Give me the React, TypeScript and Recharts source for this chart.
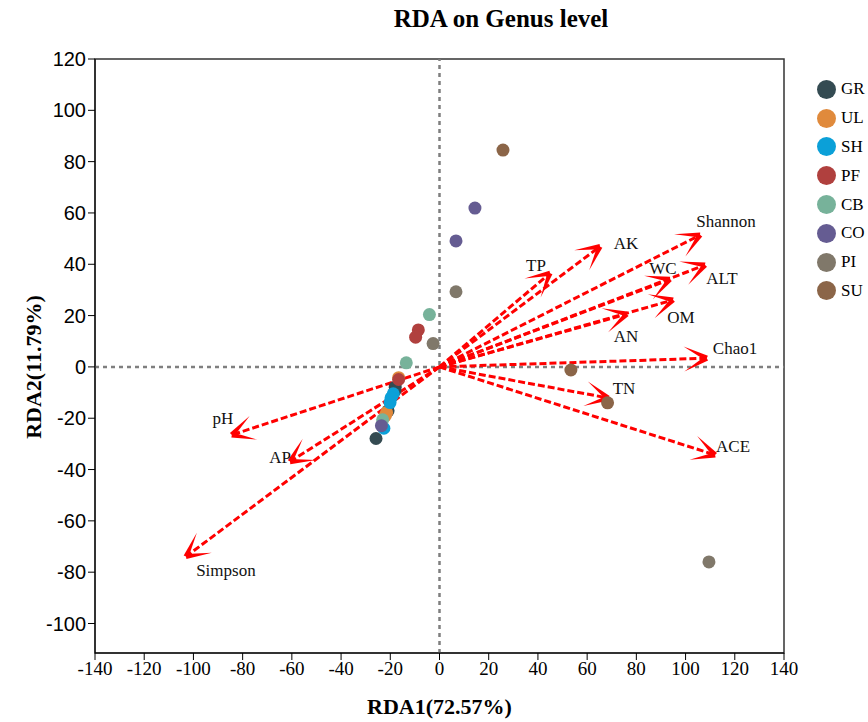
import React from 'react';
import {
  ScatterChart,
  Scatter,
  XAxis,
  YAxis,
  ReferenceLine,
  ReferenceDot,
  ReferenceArea,
} from 'recharts';

// sample groups and their site scores (RDA1, RDA2)
const groups = ['GR', 'UL', 'SH', 'PF', 'CB', 'CO', 'PI', 'SU'];
const groupColors = ['#344b52', '#e08a3c', '#0ba0d8', '#b0403e', '#77b29a', '#655c92', '#80786a', '#8b6548'];

const grPoints = [
  { x: -18.0, y: -7.9 },
  { x: -18.1, y: -9.3 },
  { x: -20.9, y: -17.1 },
  { x: -25.8, y: -27.9 },
];
const ulPoints = [
  { x: -16.6, y: -4.2 },
  { x: -21.5, y: -17.8 },
  { x: -22.0, y: -19.0 },
];
const shPoints = [
  { x: -18.8, y: -10.5 },
  { x: -19.7, y: -12.1 },
  { x: -20.1, y: -13.9 },
  { x: -22.6, y: -23.9 },
];
const pfPoints = [
  { x: -8.6, y: 14.4 },
  { x: -9.7, y: 11.6 },
  { x: -16.6, y: -4.9 },
];
const cbPoints = [
  { x: -4.1, y: 20.4 },
  { x: -13.5, y: 1.6 },
  { x: -23.1, y: -20.6 },
];
const coPoints = [
  { x: 14.4, y: 61.9 },
  { x: 6.7, y: 49.1 },
  { x: -23.6, y: -22.9 },
];
const piPoints = [
  { x: 6.7, y: 29.3 },
  { x: -2.6, y: 9.1 },
  { x: 109.5, y: -76.0 },
];
const suPoints = [
  { x: 25.8, y: 84.5 },
  { x: 53.4, y: -1.2 },
  { x: 68.3, y: -14.0 },
];
const groupPoints = [grPoints, ulPoints, shPoints, pfPoints, cbPoints, coPoints, piPoints, suPoints];

// environmental factor arrows (tip coordinates)
const envNames = ['pH', 'AP', 'Simpson', 'TP', 'AK', 'Shannon', 'WC', 'ALT', 'OM', 'AN', 'Chao1', 'TN', 'ACE'];
const envX = [-84.4, -60.7, -103.0, 44.9, 65.2, 105.9, 93.6, 107.9, 94.9, 76.1, 108.6, 68.5, 112.0];
const envY = [-26.5, -36.9, -73.9, 36.5, 46.9, 51.4, 34.1, 39.7, 26.1, 20.6, 3.4, -12.1, -34.3];
// where each factor name sits (data units)
const labelX = [-88.0, -64.8, -86.8, 39.2, 75.8, 116.4, 90.8, 114.8, 98.1, 75.8, 120.1, 75.0, 119.3];
const labelY = [-20.3, -35.5, -79.5, 39.7, 47.9, 56.5, 38.2, 34.3, 19.1, 11.7, 7.0, -8.6, -31.2];

const xTicks = [-140, -120, -100, -80, -60, -40, -20, 0, 20, 40, 60, 80, 100, 120, 140];
const yTicks = [-100, -80, -60, -40, -20, 0, 20, 40, 60, 80, 100, 120];

const RED = '#ff0000';

const Arrow = (props: any) => {
  const { x1, y1, x2, y2 } = props;
  const ang = Math.atan2(y2 - y1, x2 - x1);
  const len = 26;
  const spread = 0.5;
  const barb = (s: number) => {
    const a = ang + s * spread;
    const ex = x2 - len * Math.cos(a);
    const ey = y2 - len * Math.sin(a);
    const px = -Math.sin(a) * 2.6;
    const py = Math.cos(a) * 2.6;
    return `${x2 + px},${y2 + py} ${x2 - px},${y2 - py} ${ex},${ey}`;
  };
  return (
    <g>
      <line x1={x1} y1={y1} x2={x2} y2={y2} stroke={RED} strokeWidth={3} strokeDasharray="7 3" />
      <polygon points={barb(1)} fill={RED} />
      <polygon points={barb(-1)} fill={RED} />
    </g>
  );
};

const serif = '"Liberation Serif", "Times New Roman", serif';
const sans = '"Liberation Sans", Arial, sans-serif';

export default function App() {
  return (
    <div style={{ position: 'absolute', left: 0, top: 0, width: 868, height: 722, background: '#fff' }}>
      <ScatterChart width={868} height={722} margin={{ top: 59, right: 84, bottom: 9, left: 25 }}>
        <XAxis
          type="number"
          dataKey="x"
          domain={[-140, 140]}
          ticks={xTicks}
          allowDataOverflow
          height={60}
          stroke="#000"
          tickSize={7}
          tick={{ fill: '#000', fontSize: 19, fontFamily: serif }}
        />
        <YAxis
          type="number"
          dataKey="y"
          domain={[-111.5, 120]}
          ticks={yTicks}
          allowDataOverflow
          width={70}
          stroke="#000"
          tickSize={7}
          tick={{ fill: '#000', fontSize: 20, fontFamily: sans }}
        />
        <ReferenceArea x1={-140} x2={140} y1={-111.5} y2={120} fill="none" stroke="#333" strokeWidth={1.5} />
        <ReferenceLine x={0} stroke="#7f7f7f" strokeWidth={2.5} strokeDasharray="4 4" />
        <ReferenceLine y={0} stroke="#7f7f7f" strokeWidth={2.5} strokeDasharray="4 4" />
        {groups.map((g, i) => (
          <Scatter
            key={g}
            name={g}
            data={groupPoints[i]}
            fill={groupColors[i]}
            isAnimationActive={false}
            shape={(p: any) => <circle cx={p.cx} cy={p.cy} r={6.5} fill={groupColors[i]} />}
          />
        ))}
        {envNames.map((n, i) => (
          <ReferenceLine
            key={n}
            segment={[
              { x: 0, y: 0 },
              { x: envX[i], y: envY[i] },
            ]}
            ifOverflow="visible"
            shape={Arrow}
          />
        ))}
        {envNames.map((n, i) => (
          <ReferenceDot
            key={'l' + n}
            x={labelX[i]}
            y={labelY[i]}
            ifOverflow="visible"
            shape={(p: any) => (
              <text x={p.cx} y={p.cy} textAnchor="middle" dominantBaseline="central" fontSize={17} fontFamily={serif} fill="#111">
                {n}
              </text>
            )}
          />
        ))}
      </ScatterChart>

      <div style={{ position: 'absolute', left: 0, top: 5, width: 1002, textAlign: 'center', fontFamily: serif, fontWeight: 'bold', fontSize: 25, color: '#000' }}>
        RDA on Genus level
      </div>
      <div style={{ position: 'absolute', left: 0, top: 694, width: 879, textAlign: 'center', fontFamily: serif, fontWeight: 'bold', fontSize: 22, color: '#000' }}>
        RDA1(72.57%)
      </div>
      <div
        style={{
          position: 'absolute',
          left: 34,
          top: 367,
          transform: 'translate(-50%, -50%) rotate(-90deg)',
          whiteSpace: 'nowrap',
          fontFamily: serif,
          fontWeight: 'bold',
          fontSize: 22,
          color: '#000',
        }}
      >
        RDA2(11.79%)
      </div>

      <div style={{ position: 'absolute', left: 817, top: 75 }}>
        {groups.map((g, i) => (
          <div key={g} style={{ display: 'flex', alignItems: 'center', height: 28.8 }}>
            <span style={{ width: 19, height: 19, borderRadius: '50%', background: groupColors[i], display: 'inline-block' }} />
            <span style={{ marginLeft: 5, fontFamily: serif, fontSize: 17, color: '#000' }}>{g}</span>
          </div>
        ))}
      </div>
    </div>
  );
}
